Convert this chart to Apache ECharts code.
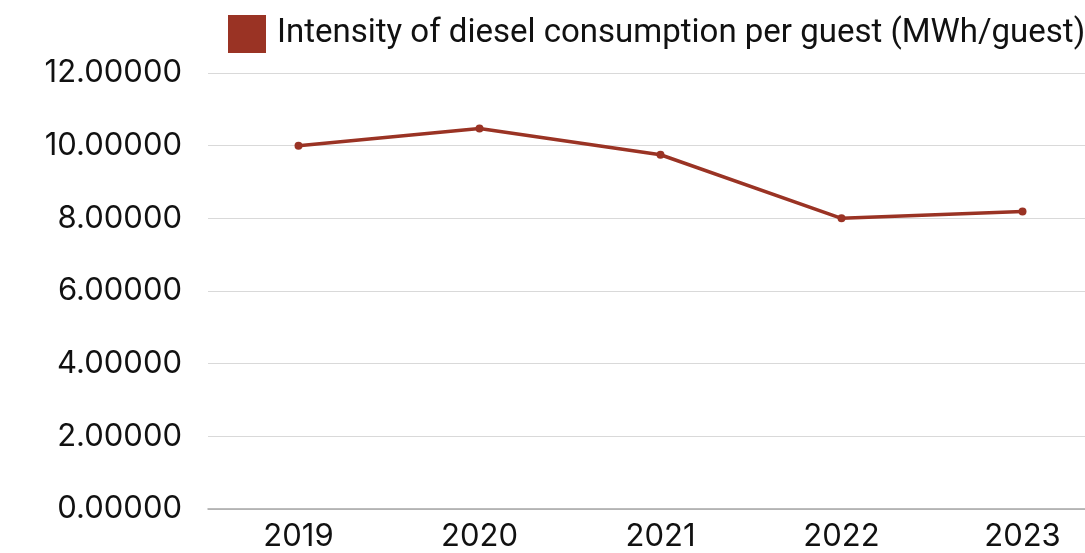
<!DOCTYPE html>
<html>
<head>
<meta charset="utf-8">
<script src="https://cdn.jsdelivr.net/npm/echarts@6/dist/echarts.min.js"></script>
<style>
  html, body { margin: 0; padding: 0; background: #fff; }
  #chart { width: 1085px; height: 553px; }
</style>
</head>
<body>
<div id="chart"></div>
<script>
// Diesel consumption intensity per guest, 2019–2023
const years = ['2019', '2020', '2021', '2022', '2023'];
const dieselIntensity = [10.0, 10.47, 9.75, 8.0, 8.19];
const seriesName = 'Intensity of diesel consumption per guest (MWh/guest)';

const chart = echarts.init(document.getElementById('chart'), null, { renderer: 'canvas' });
chart.setOption({
  animation: false,
  backgroundColor: '#ffffff',
  legend: {
    data: [{ name: seriesName, icon: 'rect' }],
    left: 223,
    top: 10,
    itemWidth: 38,
    itemHeight: 38,
    itemGap: 10,
    textStyle: { fontFamily: 'Roboto', fontSize: 33, color: '#111', padding: [0, 0, 0, 6] }
  },
  // plot area runs past the right edge of the canvas
  grid: { left: 208, width: 905, top: 73, bottom: 44, outerBoundsMode: 'none' },
  xAxis: {
    type: 'category',
    data: years,
    boundaryGap: true,
    axisLine: { lineStyle: { color: '#a6a6a6', width: 1.5 } },
    axisTick: { show: false },
    axisLabel: { fontFamily: 'Inter', fontSize: 31, color: '#111', margin: 12 }
  },
  yAxis: {
    type: 'value',
    min: 0,
    max: 12,
    interval: 2,
    axisLine: { show: false },
    axisTick: { show: false },
    splitLine: { lineStyle: { color: '#d9d9d9', width: 1.2 } },
    axisLabel: {
      fontFamily: 'Inter', fontSize: 31, color: '#111', margin: 26,
      formatter: v => v.toFixed(5)
    }
  },
  series: [{
    name: seriesName,
    type: 'line',
    data: dieselIntensity,
    symbol: 'circle',
    symbolSize: 8,
    itemStyle: { color: '#9a3324' },
    lineStyle: { color: '#9a3324', width: 3.5 }
  }]
});
</script>
</body>
</html>
